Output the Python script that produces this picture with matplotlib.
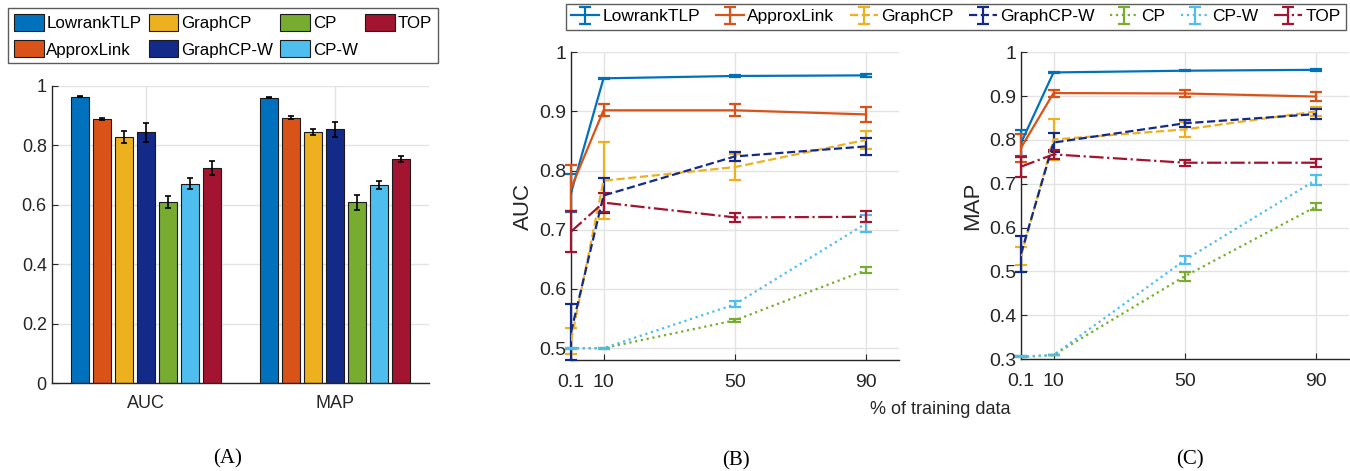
import matplotlib
matplotlib.use("Agg")
import matplotlib.pyplot as plt
import numpy as np

plt.rcParams['font.family'] = ['Liberation Sans', 'DejaVu Sans']

methods = ["LowrankTLP", "ApproxLink", "GraphCP", "GraphCP-W", "CP", "CP-W", "TOP"]
colors = ["#0072BD", "#D95319", "#EDB120", "#142A88", "#77AC30", "#4DBEEE", "#A2142F"]
styles = ["-", "-", "--", "--", ":", ":", "-."]

# Panel A
metrics = ["AUC", "MAP"]
bar_auc = [0.963, 0.889, 0.828, 0.843, 0.608, 0.671, 0.724]
bar_auc_err = [0.002, 0.004, 0.020, 0.032, 0.020, 0.017, 0.024]
bar_map = [0.960, 0.893, 0.844, 0.853, 0.608, 0.665, 0.754]
bar_map_err = [0.002, 0.004, 0.011, 0.026, 0.025, 0.013, 0.011]

# Panels B, C
train_pct = [0.1, 10, 50, 90]
xtick_labels = ["0.1", "10", "50", "90"]
auc_vals = {
    "LowrankTLP": [0.762, 0.956, 0.960, 0.961],
    "ApproxLink": [0.770, 0.902, 0.902, 0.895],
    "GraphCP":    [0.512, 0.783, 0.806, 0.852],
    "GraphCP-W":  [0.527, 0.758, 0.824, 0.841],
    "CP":         [0.500, 0.500, 0.547, 0.632],
    "CP-W":       [0.500, 0.500, 0.574, 0.711],
    "TOP":        [0.697, 0.746, 0.721, 0.722],
}
auc_errs = {
    "LowrankTLP": [0.032, 0.001, 0.001, 0.002],
    "ApproxLink": [0.039, 0.010, 0.010, 0.012],
    "GraphCP":    [0.022, 0.065, 0.022, 0.015],
    "GraphCP-W":  [0.047, 0.029, 0.008, 0.015],
    "CP":         [0.001, 0.001, 0.003, 0.005],
    "CP-W":       [0.001, 0.001, 0.005, 0.014],
    "TOP":        [0.034, 0.016, 0.008, 0.009],
}
map_vals = {
    "LowrankTLP": [0.793, 0.954, 0.958, 0.960],
    "ApproxLink": [0.782, 0.907, 0.906, 0.899],
    "GraphCP":    [0.535, 0.801, 0.824, 0.865],
    "GraphCP-W":  [0.540, 0.794, 0.838, 0.859],
    "CP":         [0.305, 0.309, 0.489, 0.648],
    "CP-W":       [0.305, 0.309, 0.526, 0.709],
    "TOP":        [0.739, 0.767, 0.748, 0.748],
}
map_errs = {
    "LowrankTLP": [0.030, 0.001, 0.001, 0.002],
    "ApproxLink": [0.032, 0.008, 0.008, 0.010],
    "GraphCP":    [0.020, 0.047, 0.018, 0.010],
    "GraphCP-W":  [0.041, 0.022, 0.008, 0.012],
    "CP":         [0.001, 0.001, 0.010, 0.007],
    "CP-W":       [0.001, 0.001, 0.010, 0.012],
    "TOP":        [0.023, 0.010, 0.007, 0.009],
}

W, H = 1350, 471
fig = plt.figure(figsize=(W / 100, H / 100), dpi=100)

def frac(l, t, r, b):
    return [l / W, 1 - b / H, (r - l) / W, (b - t) / H]

axis_col = "#262626"
grid_col = "#E3E3E3"

def style_axes(ax):
    for s in ["top", "right"]:
        ax.spines[s].set_visible(False)
    for s in ["left", "bottom"]:
        ax.spines[s].set_color(axis_col)
        ax.spines[s].set_linewidth(1.0)
    ax.tick_params(direction="in", colors=axis_col, labelcolor=axis_col, length=4, width=0.8)
    ax.grid(True, color=grid_col, linewidth=1.0)
    ax.set_axisbelow(True)

# ---- Panel A ----
axA = fig.add_axes(frac(51.7, 85.7, 429, 383))
style_axes(axA)
group_x = np.arange(1, len(metrics) + 1)
step = 0.1166
bw = 0.095
for i, m in enumerate(methods):
    xs = group_x + (i - 3) * step
    vals = [bar_auc[i], bar_map[i]]
    errs = [bar_auc_err[i], bar_map_err[i]]
    axA.bar(xs, vals, width=bw, color=colors[i], edgecolor="#1a1a1a", linewidth=0.8, label=m, zorder=2)
    axA.errorbar(xs, vals, yerr=errs, fmt="none", ecolor="black", elinewidth=1.2, capsize=2.5, capthick=1.2, zorder=3)
axA.set_xlim(0.5, 2.5)
axA.set_ylim(0, 1)
axA.set_xticks(group_x)
axA.set_xticklabels(metrics, fontsize=13)
axA.set_yticks([0, 0.2, 0.4, 0.6, 0.8, 1.0])
axA.set_yticklabels(["0", "0.2", "0.4", "0.6", "0.8", "1"], fontsize=13)
axA.tick_params(axis="x", length=0, pad=9)

legA = fig.legend(*axA.get_legend_handles_labels(), loc="upper left",
                  bbox_to_anchor=(8 / W, 1 - 8 / H), ncol=4, fontsize=12.2,
                  frameon=True, fancybox=False, edgecolor="#333333",
                  handlelength=1.75, handleheight=1.15, handletextpad=0.15,
                  columnspacing=0.45, labelspacing=0.55, borderpad=0.35, borderaxespad=0)
legA.get_frame().set_linewidth(1.0)

# ---- Panels B and C ----
def line_panel(rect, vals, errs, ylim, yticks, ylabels, ylabel):
    ax = fig.add_axes(rect)
    style_axes(ax)
    for i, m in enumerate(methods):
        cont = ax.errorbar(train_pct, vals[m], yerr=errs[m], color=colors[i], linestyle=styles[i],
                           linewidth=1.6, elinewidth=1.6, capsize=4.4, capthick=1.6, label=m, zorder=3)
        for art in cont.lines[1]:
            art.set_clip_on(False)
        for art in cont.lines[2]:
            art.set_clip_on(False)
    ax.set_xlim(0.1, 100)
    ax.set_ylim(*ylim)
    ax.set_xticks(train_pct)
    ax.set_xticklabels(xtick_labels, fontsize=14)
    ax.set_yticks(yticks)
    ax.set_yticklabels(ylabels, fontsize=14)
    ax.set_ylabel(ylabel, fontsize=16, color=axis_col, labelpad=4)
    ax.tick_params(axis="x", pad=10)
    return ax

axB = line_panel(frac(571, 52.3, 899, 360), auc_vals, auc_errs, (0.48, 1.0),
                 [0.5, 0.6, 0.7, 0.8, 0.9, 1.0], ["0.5", "0.6", "0.7", "0.8", "0.9", "1"], "AUC")
axC = line_panel(frac(1021, 52.3, 1349, 359), map_vals, map_errs, (0.3, 1.0),
                 [0.3, 0.4, 0.5, 0.6, 0.7, 0.8, 0.9, 1.0],
                 ["0.3", "0.4", "0.5", "0.6", "0.7", "0.8", "0.9", "1"], "MAP")

legB = fig.legend(*axB.get_legend_handles_labels(), loc="upper center",
                  bbox_to_anchor=(956 / W, 1 - 4 / H), ncol=7, fontsize=12.5,
                  frameon=True, fancybox=False, edgecolor="#333333",
                  handlelength=1.6, handletextpad=0.2, columnspacing=0.9,
                  borderpad=0.3, borderaxespad=0)
legB.get_frame().set_linewidth(1.0)

fig.text(940 / W, 1 - 410 / H, "% of training data", ha="center", va="center", fontsize=13, color=axis_col)

serif = ["Liberation Serif", "DejaVu Serif"]
fig.text(228 / W, 1 - 459 / H, "(A)", ha="center", va="center", fontsize=15, family=serif)
fig.text(736 / W, 1 - 461 / H, "(B)", ha="center", va="center", fontsize=15, family=serif)
fig.text(1190 / W, 1 - 460 / H, "(C)", ha="center", va="center", fontsize=15, family=serif)

fig.savefig("out.png", dpi=100)
